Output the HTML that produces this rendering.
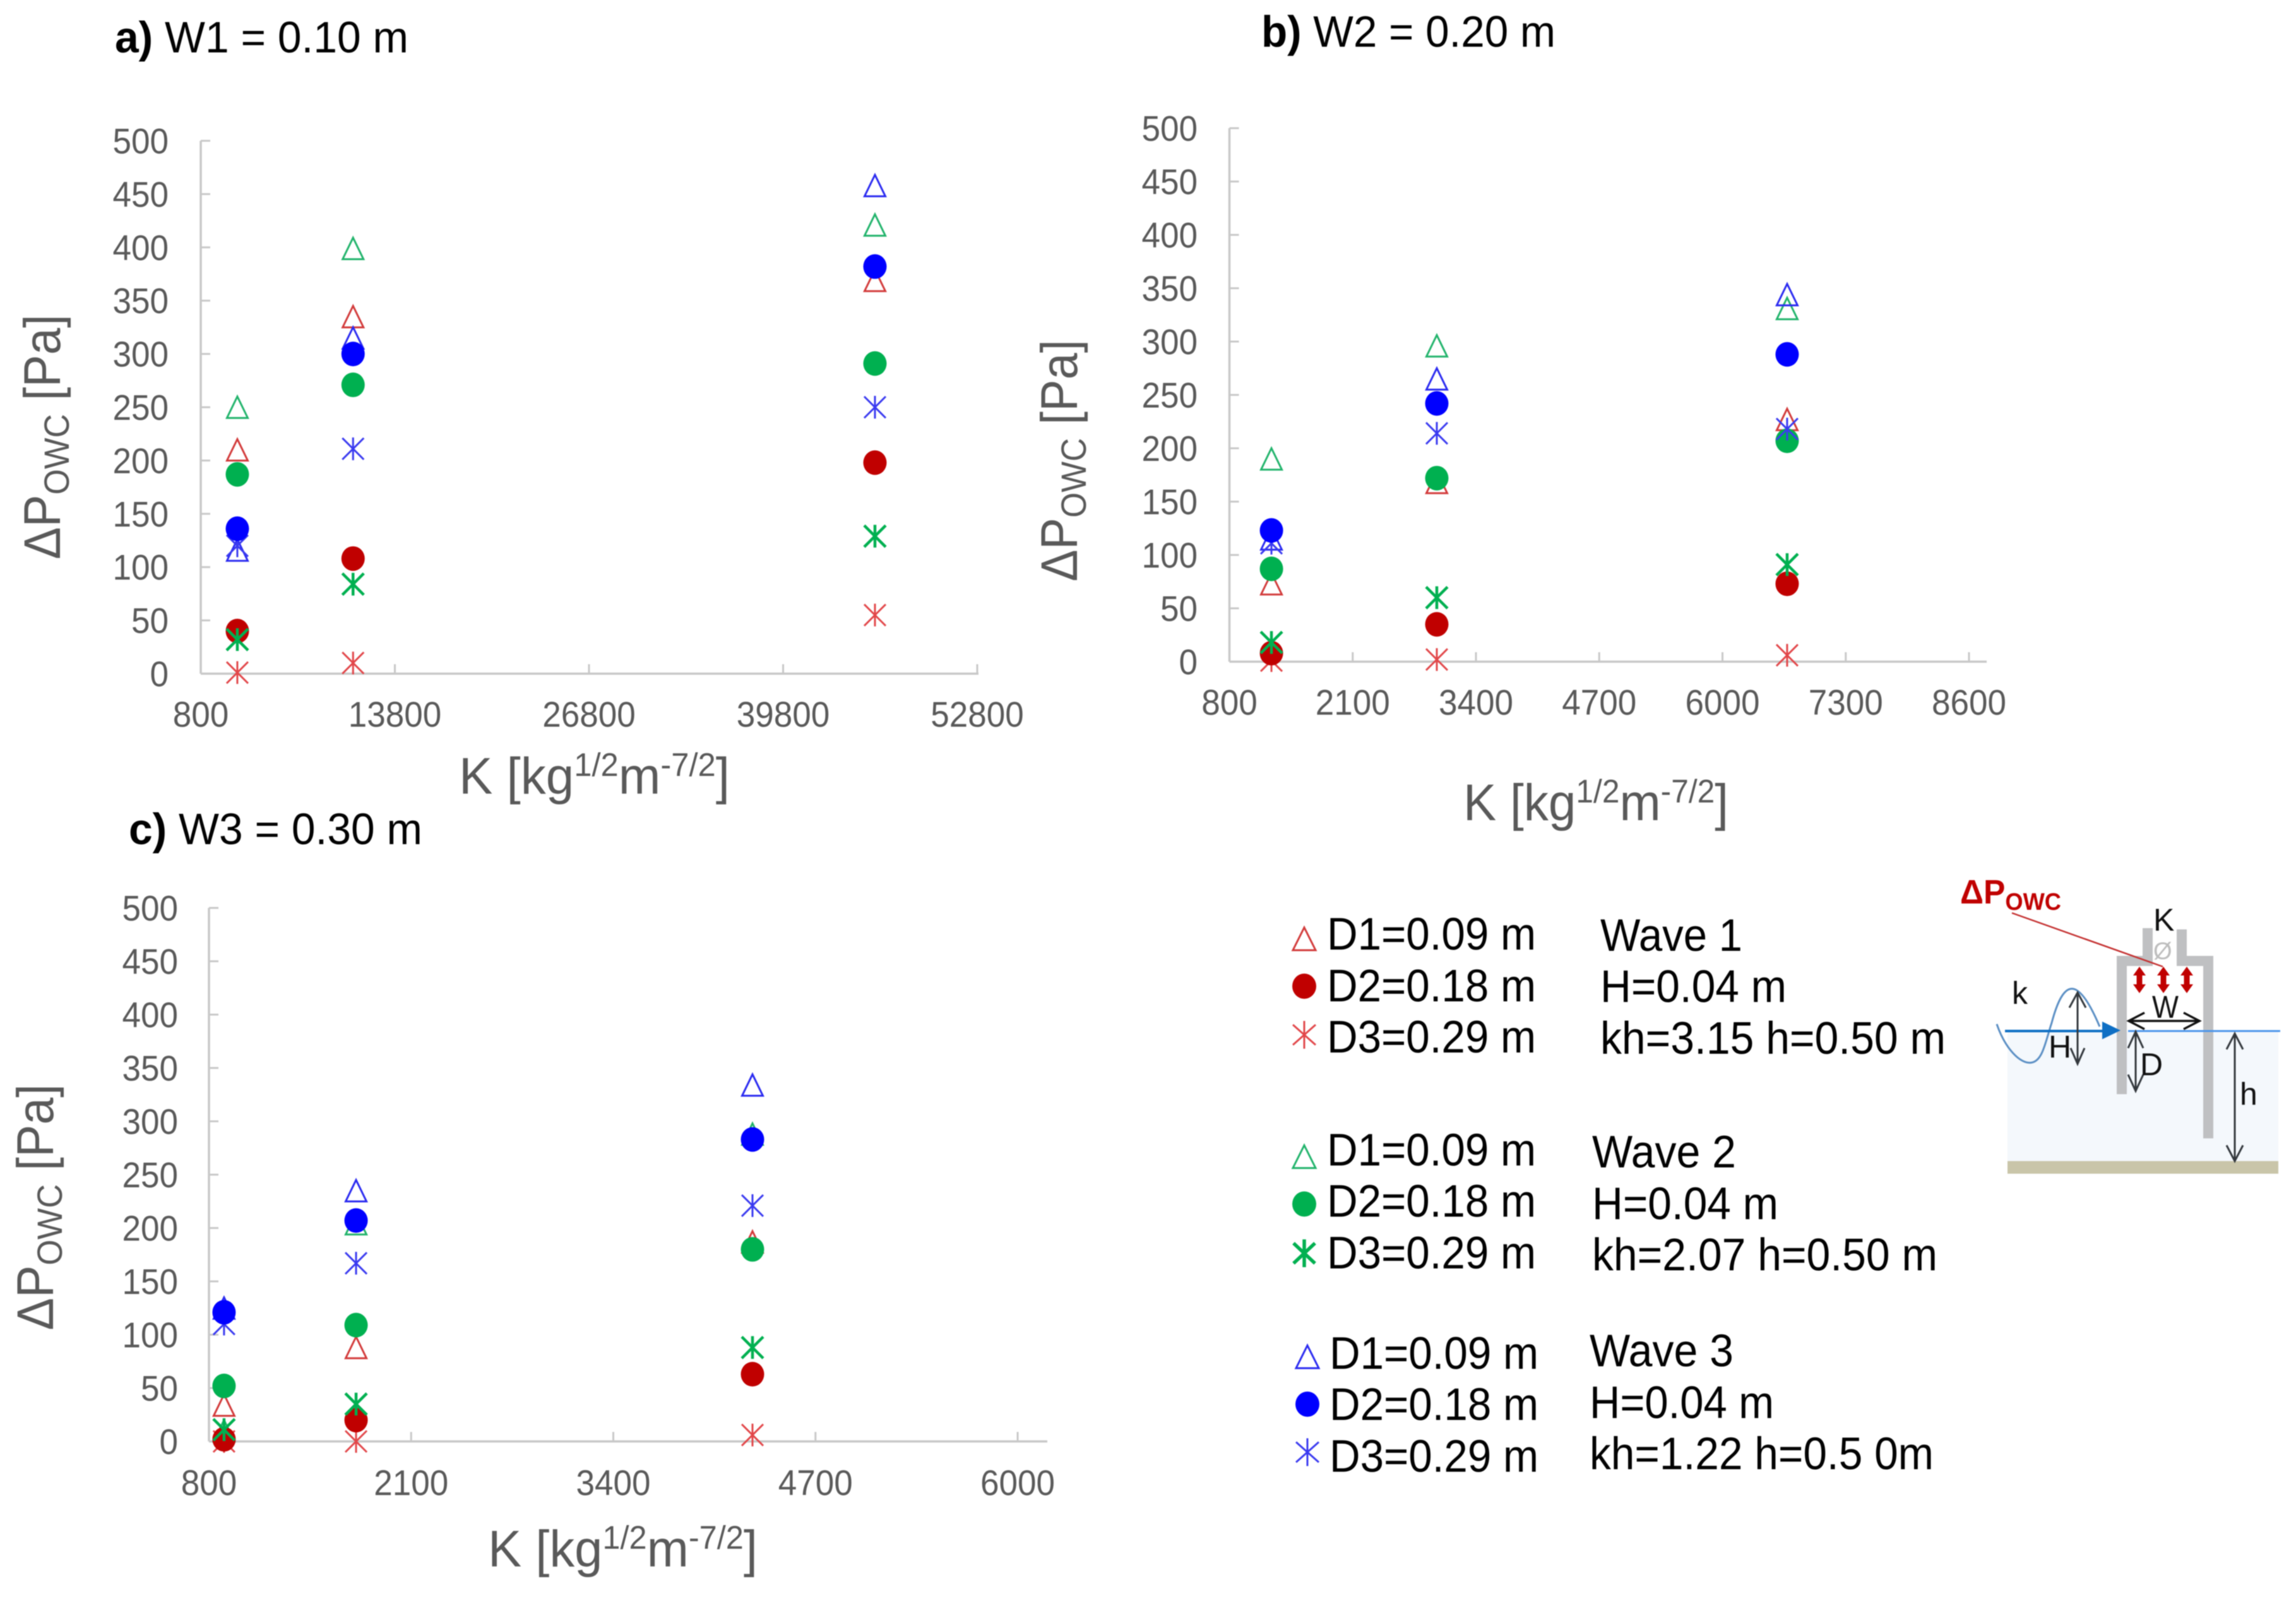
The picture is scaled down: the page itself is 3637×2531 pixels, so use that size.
<!DOCTYPE html>
<html lang="en">
<head>
<meta charset="utf-8">
<title>Pressure drop vs K for three chamber widths</title>
<style>
html,body{margin:0;padding:0;background:#fff;width:3637px;height:2531px;overflow:hidden}
svg{display:block;filter:blur(0.8px)}
text{font-family:"Liberation Sans",Arial,sans-serif}
.tick{font-size:57px;fill:#595959}
.axt{font-size:82px;fill:#595959}
.ttl{font-size:70px;fill:#000}
.leg{font-size:72px;fill:#000}
.sch{font-size:50px;fill:#111}
</style>
</head>
<body>
<svg id="figure" xmlns="http://www.w3.org/2000/svg" width="3637" height="2531" viewBox="0 0 3637 2531">
<rect width="3637" height="2531" fill="#fff"/>
<g id="charts"></g>

<g fill="none">
<polygon points="2066,1469 2084,1505 2048,1505" stroke="#d23a3a" stroke-width="3"/>
<ellipse cx="2066" cy="1562" rx="19" ry="20" fill="#c00000"/>
<g stroke="#e2474a" stroke-width="3"><path d="M2066 1617V1661M2048 1623L2084 1655M2084 1623L2048 1655"/></g>
<polygon points="2066,1814 2084,1850 2048,1850" stroke="#21b36b" stroke-width="3"/>
<ellipse cx="2066" cy="1907" rx="19" ry="20" fill="#00b050"/>
<g stroke="#00b050" stroke-width="5.5"><path d="M2066 1963V2007M2049 1969L2083 2001M2083 1969L2049 2001"/></g>
<polygon points="2071,2131 2089,2167 2053,2167" stroke="#2a2af0" stroke-width="3"/>
<ellipse cx="2071" cy="2224" rx="19" ry="20" fill="#0000ff"/>
<g stroke="#3a3af0" stroke-width="3"><path d="M2071 2278V2322M2053 2284L2089 2316M2089 2284L2053 2316"/></g>
</g>

<g>
<text class="leg" x="2102" y="1504" textLength="331" lengthAdjust="spacingAndGlyphs">D1=0.09 m</text>
<text class="leg" x="2102" y="1586" textLength="331" lengthAdjust="spacingAndGlyphs">D2=0.18 m</text>
<text class="leg" x="2102" y="1667" textLength="331" lengthAdjust="spacingAndGlyphs">D3=0.29 m</text>
<text class="leg" x="2535" y="1506" textLength="225" lengthAdjust="spacingAndGlyphs">Wave 1</text>
<text class="leg" x="2535" y="1587" textLength="295" lengthAdjust="spacingAndGlyphs">H=0.04 m</text>
<text class="leg" x="2535" y="1669" textLength="547" lengthAdjust="spacingAndGlyphs">kh=3.15 h=0.50 m</text>

<text class="leg" x="2102" y="1846" textLength="331" lengthAdjust="spacingAndGlyphs">D1=0.09 m</text>
<text class="leg" x="2102" y="1927" textLength="331" lengthAdjust="spacingAndGlyphs">D2=0.18 m</text>
<text class="leg" x="2102" y="2009" textLength="331" lengthAdjust="spacingAndGlyphs">D3=0.29 m</text>
<text class="leg" x="2522" y="1849" textLength="228" lengthAdjust="spacingAndGlyphs">Wave 2</text>
<text class="leg" x="2522" y="1931" textLength="295" lengthAdjust="spacingAndGlyphs">H=0.04 m</text>
<text class="leg" x="2522" y="2012" textLength="547" lengthAdjust="spacingAndGlyphs">kh=2.07 h=0.50 m</text>

<text class="leg" x="2106" y="2168" textLength="331" lengthAdjust="spacingAndGlyphs">D1=0.09 m</text>
<text class="leg" x="2106" y="2249" textLength="331" lengthAdjust="spacingAndGlyphs">D2=0.18 m</text>
<text class="leg" x="2106" y="2331" textLength="331" lengthAdjust="spacingAndGlyphs">D3=0.29 m</text>
<text class="leg" x="2518" y="2164" textLength="228" lengthAdjust="spacingAndGlyphs">Wave 3</text>
<text class="leg" x="2518" y="2246" textLength="292" lengthAdjust="spacingAndGlyphs">H=0.04 m</text>
<text class="leg" x="2518" y="2327" textLength="545" lengthAdjust="spacingAndGlyphs">kh=1.22 h=0.5 0m</text>
</g>

<g>
<rect x="3180" y="1634" width="429" height="205" fill="#f4f8fc"/>
<rect x="3180" y="1839" width="429" height="20" fill="#c9c5a9"/>
<g fill="#bfc0c2">
<rect x="3353" y="1514" width="16" height="219"/>
<rect x="3490" y="1514" width="16" height="289"/>
<rect x="3353" y="1514" width="57" height="16"/>
<rect x="3448" y="1514" width="58" height="16"/>
<rect x="3394" y="1470" width="16" height="60"/>
<rect x="3448" y="1472" width="16" height="58"/>
</g>
<path d="M3371 1633H3612" stroke="#4a94ea" stroke-width="3" fill="none"/>
<path d="M3163 1622C3176 1660 3200 1686 3218 1683C3236 1680 3240 1650 3250 1620C3258 1590 3268 1566 3282 1566C3298 1566 3315 1600 3326 1626" stroke="#5b8fc4" stroke-width="3" fill="none"/>
<path d="M3176 1633H3335" stroke="#0e6fc4" stroke-width="4" fill="none"/>
<polygon points="3330,1618 3359,1632 3330,1646" fill="#0e6fc4"/>
<path d="M3187 1446L3426 1531" stroke="#c43030" stroke-width="2.5" fill="none"/>
<g stroke="#c00000" stroke-width="9" fill="#c00000">
<path d="M3389 1540V1564"/><path d="M3427 1540V1564"/><path d="M3464 1540V1564"/>
<polygon stroke="none" points="3389,1531 3399,1545 3379,1545"/><polygon stroke="none" points="3389,1573 3399,1559 3379,1559"/>
<polygon stroke="none" points="3427,1531 3437,1545 3417,1545"/><polygon stroke="none" points="3427,1573 3437,1559 3417,1559"/>
<polygon stroke="none" points="3464,1531 3474,1545 3454,1545"/><polygon stroke="none" points="3464,1573 3474,1559 3454,1559"/>
</g>
<g stroke="#33383d" stroke-width="3" fill="none">
<path d="M3291 1572V1685M3278 1596L3291 1572L3304 1596M3280 1660L3291 1685L3302 1660"/>
<path d="M3372 1617H3484M3397 1604L3372 1617L3397 1630M3459 1604L3484 1617L3459 1630" stroke="#111" stroke-width="3.5"/>
<path d="M3383 1634V1728M3371 1660L3383 1634L3395 1660M3371 1702L3383 1728L3395 1702"/>
<path d="M3540 1637V1839M3527 1662L3540 1637L3553 1662M3527 1814L3540 1839L3553 1814"/>
</g>
<text x="3105" y="1431" font-size="54" font-weight="700" fill="#c00000" textLength="160" lengthAdjust="spacingAndGlyphs">ΔP<tspan dy="10" font-size="38">OWC</tspan></text>
<text class="sch" x="3411" y="1474">K</text>
<text x="3411" y="1519" font-size="38" fill="#bdbdbd">Ø</text>
<text class="sch" x="3187" y="1590">k</text>
<text class="sch" x="3245" y="1675" fill="#404040">H</text>
<text class="sch" x="3390" y="1703" fill="#404040">D</text>
<text class="sch" x="3409" y="1612" fill="#404040" textLength="42" lengthAdjust="spacingAndGlyphs">W</text>
<text class="sch" x="3548" y="1750" fill="#404040">h</text>
</g>
</svg>

<script>
// Shared tick labels
const yTickLabels = [0, 50, 100, 150, 200, 250, 300, 350, 400, 450, 500];
const xTickLabelsA = [800, 13800, 26800, 39800, 52800];
const xTickLabelsB = [800, 2100, 3400, 4700, 6000, 7300, 8600];
const xTickLabelsC = [800, 2100, 3400, 4700, 6000];

// Panel a: W1 = 0.10 m
const kValuesA = [3250, 11000, 45950];
const aWave1D1 = [210, 335, 369];
const aWave1D2 = [40, 108, 198];
const aWave1D3 = [1, 10, 55];
const aWave2D1 = [250, 399, 421];
const aWave2D2 = [187, 271, 291];
const aWave2D3 = [32, 84, 129];
const aWave3D1 = [116, 315, 458];
const aWave3D2 = [136, 300, 382];
const aWave3D3 = [120, 211, 250];

// Panel b: W2 = 0.20 m
const kValuesB = [1243, 2987, 6682];
const bWave1D1 = [73, 168, 227];
const bWave1D2 = [8, 35, 73];
const bWave1D3 = [1, 2, 6];
const bWave2D1 = [190, 296, 331];
const bWave2D2 = [87, 172, 207];
const bWave2D3 = [18, 60, 91];
const bWave3D1 = [115, 265, 344];
const bWave3D2 = [123, 242, 288];
const bWave3D3 = [111, 214, 218];

// Panel c: W3 = 0.30 m
const kValuesC = [897, 1746, 4295];
const cWave1D1 = [34, 88, 187];
const cWave1D2 = [2, 20, 63];
const cWave1D3 = [0, 0, 6];
const cWave2D1 = [10, 204, 288];
const cWave2D2 = [52, 109, 180];
const cWave2D3 = [11, 35, 88];
const cWave3D1 = [125, 235, 334];
const cWave3D2 = [121, 207, 283];
const cWave3D3 = [110, 167, 221];

const SVGNS = 'http://www.w3.org/2000/svg';
const root = document.getElementById('charts');
const DIGIT_WIDTH = 29.5;

function make(tag, parent, attrs, text) {
  const n = document.createElementNS(SVGNS, tag);
  for (const k in attrs) n.setAttribute(k, attrs[k]);
  if (text !== undefined) n.textContent = text;
  parent.appendChild(n);
  return n;
}

function drawMark(parent, kind, color, width, cx, cy) {
  if (kind === 'circle') {
    return make('ellipse', parent, {cx: cx, cy: cy, rx: 18.5, ry: 19.5, fill: color});
  }
  if (kind === 'triangle') {
    const pts = [[cx, cy - 17], [cx + 16.5, cy + 17], [cx - 16.5, cy + 17]];
    return make('polygon', parent, {points: pts.map(p => p.join(',')).join(' '), fill: 'none', stroke: color, 'stroke-width': width});
  }
  const d = 'M' + cx + ' ' + (cy - 18) + 'V' + (cy + 18) +
    'M' + (cx - 17) + ' ' + (cy - 17) + 'L' + (cx + 17) + ' ' + (cy + 17) +
    'M' + (cx + 17) + ' ' + (cy - 17) + 'L' + (cx - 17) + ' ' + (cy + 17);
  return make('path', parent, {d: d, fill: 'none', stroke: color, 'stroke-width': width});
}

function drawPanel(p) {
  const g = make('g', root, {});
  
  

  const minK = p.xTicks[0];
  const maxK = p.xTicks[p.xTicks.length - 1];
  const xScale = k => p.x0 + (k - minK) / (maxK - minK) * (p.x1 - p.x0);
  const yScale = v => p.y0 - v / 500 * (p.y0 - p.y1);

  const axisX = make('path', g, {d: 'M' + p.x0 + ' ' + p.y0 + 'H' + p.xEnd, stroke: '#c8c8c8', 'stroke-width': 3.5, fill: 'none'});
  
  
  const axisY = make('path', g, {d: 'M' + p.x0 + ' ' + p.y1 + 'V' + p.y0, stroke: '#c8c8c8', 'stroke-width': 3.5, fill: 'none'});
  
  

  yTickLabels.forEach(function (v) {
    const y = yScale(v);
    const t = make('path', g, {d: 'M' + p.x0 + ' ' + y + 'h15', stroke: '#c8c8c8', 'stroke-width': 3, fill: 'none'});
    
    
    const label = String(v);
    const l = make('text', g, {class: 'tick', x: p.yLabelX, y: y + 20, 'text-anchor': 'end', textLength: label.length * DIGIT_WIDTH, lengthAdjust: 'spacingAndGlyphs'}, label);
    
    
  });
  p.xTicks.forEach(function (k) {
    const x = xScale(k);
    const t = make('path', g, {d: 'M' + x + ' ' + p.y0 + 'v-15', stroke: '#c8c8c8', 'stroke-width': 3, fill: 'none'});
    
    
    const label = String(k);
    const l = make('text', g, {class: 'tick', x: x, y: p.xLabelY, 'text-anchor': 'middle', textLength: label.length * DIGIT_WIDTH, lengthAdjust: 'spacingAndGlyphs'}, label);
    
    
  });

  p.series.forEach(function (s) {
    const sg = make('g', g, {});
    
    
    s.values.forEach(function (v, i) {
      const m = drawMark(sg, s.kind, s.color, s.width, xScale(p.k[i]), yScale(v));
      
      
    });
  });

  const title = make('text', g, {class: 'ttl', x: p.titleX, y: p.titleY, textLength: p.titleLen, lengthAdjust: 'spacingAndGlyphs'});
  
  
  make('tspan', title, {'font-weight': 700}, p.letter);
  make('tspan', title, {}, ' ' + p.titleText);

  const xt = make('text', g, {class: 'axt', x: p.xtX, y: p.xtY, textLength: p.xtLen, lengthAdjust: 'spacingAndGlyphs'});
  
  
  make('tspan', xt, {}, 'K [kg');
  make('tspan', xt, {dy: -28, 'font-size': 52}, '1/2');
  make('tspan', xt, {dy: 28}, 'm');
  make('tspan', xt, {dy: -28, 'font-size': 52}, '-7/2');
  make('tspan', xt, {dy: 28}, ']');

  const yt = make('text', g, {class: 'axt', transform: 'translate(' + p.ytX + ' ' + p.ytY + ') rotate(-90)', textLength: p.ytLen, lengthAdjust: 'spacingAndGlyphs'});
  
  
  make('tspan', yt, {}, 'ΔP');
  make('tspan', yt, {dy: 14, 'font-size': 56}, 'OWC');
  make('tspan', yt, {dy: -14}, ' [Pa]');
}

function seriesSet(w1d1, w1d2, w1d3, w2d1, w2d2, w2d3, w3d1, w3d2, w3d3) {
  return [
    {name: 'wave1-d1', kind: 'triangle', color: '#d23a3a', width: 3, values: w1d1},
    {name: 'wave2-d1', kind: 'triangle', color: '#21b36b', width: 3, values: w2d1},
    {name: 'wave3-d1', kind: 'triangle', color: '#2a2af0', width: 3, values: w3d1},
    {name: 'wave1-d3', kind: 'star', color: '#e2474a', width: 3, values: w1d3},
    {name: 'wave1-d2', kind: 'circle', color: '#c00000', width: 0, values: w1d2},
    {name: 'wave2-d2', kind: 'circle', color: '#00b050', width: 0, values: w2d2},
    {name: 'wave2-d3', kind: 'star', color: '#00b050', width: 4.5, values: w2d3},
    {name: 'wave3-d3', kind: 'star', color: '#3a3af0', width: 3, values: w3d3},
    {name: 'wave3-d2', kind: 'circle', color: '#0000ff', width: 0, values: w3d2}
  ];
}

drawPanel({
  id: 'panel-a', letter: 'a)', titleText: 'W1 = 0.10 m', titleX: 182, titleY: 83, titleLen: 465,
  x0: 318, x1: 1548, xEnd: 1550, y0: 1067, y1: 223, yLabelX: 267, xLabelY: 1151,
  xTicks: xTickLabelsA, k: kValuesA,
  xtX: 727, xtY: 1257, xtLen: 429, ytX: 95, ytY: 886, ytLen: 388,
  series: seriesSet(aWave1D1, aWave1D2, aWave1D3, aWave2D1, aWave2D2, aWave2D3, aWave3D1, aWave3D2, aWave3D3)
});
drawPanel({
  id: 'panel-b', letter: 'b)', titleText: 'W2 = 0.20 m', titleX: 1998, titleY: 74, titleLen: 466,
  x0: 1947.5, x1: 3119, xEnd: 3147, y0: 1048, y1: 203, yLabelX: 1897, xLabelY: 1132,
  xTicks: xTickLabelsB, k: kValuesB,
  xtX: 2318, xtY: 1299, xtLen: 420, ytX: 1706, ytY: 921, ytLen: 383,
  series: seriesSet(bWave1D1, bWave1D2, bWave1D3, bWave2D1, bWave2D2, bWave2D3, bWave3D1, bWave3D2, bWave3D3)
});
drawPanel({
  id: 'panel-c', letter: 'c)', titleText: 'W3 = 0.30 m', titleX: 204, titleY: 1337, titleLen: 465,
  x0: 331, x1: 1612, xEnd: 1659, y0: 2283, y1: 1438, yLabelX: 282, xLabelY: 2368,
  xTicks: xTickLabelsC, k: kValuesC,
  xtX: 773, xtY: 2481, xtLen: 427, ytX: 84, ytY: 2107, ytLen: 390,
  series: seriesSet(cWave1D1, cWave1D2, cWave1D3, cWave2D1, cWave2D2, cWave2D3, cWave3D1, cWave3D2, cWave3D3)
});
</script>
</body>
</html>
